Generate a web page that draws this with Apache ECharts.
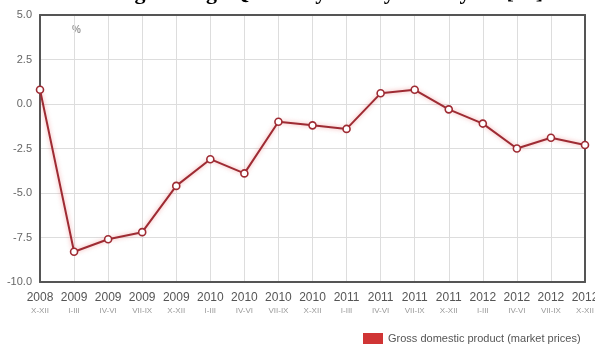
<!DOCTYPE html>
<html><head><meta charset="utf-8">
<script src="https://cdn.jsdelivr.net/npm/echarts@6/dist/echarts.min.js"></script>
<style>html,body{margin:0;padding:0;background:#fff}#c{width:595px;height:345px}</style>
</head><body><div id="c"></div>
<script>
const years = ['2008','2009','2009','2009','2009','2010','2010','2010','2010','2011','2011','2011','2011','2012','2012','2012','2012'];
const quarters = ['X-XII','I-III','IV-VI','VII-IX','X-XII','I-III','IV-VI','VII-IX','X-XII','I-III','IV-VI','VII-IX','X-XII','I-III','IV-VI','VII-IX','X-XII'];
const gdp = [0.8,-8.3,-7.6,-7.2,-4.6,-3.1,-3.9,-1.0,-1.2,-1.4,0.6,0.8,-0.3,-1.1,-2.5,-1.9,-2.3];
const yTicks = [-10,-7.5,-5,-2.5,0,2.5,5];
const seriesName = 'Gross domestic product (market prices)';
const titleText = 'Percentage change Quarterly GDP year on year [%]';

const cats = years.map((y,i)=>y+'\n'+quarters[i]);
const frameLine = {show:true,onZero:false,lineStyle:{color:'#555',width:2}};
const chart = echarts.init(document.getElementById('c'));
chart.setOption({
  backgroundColor:'#fff',
  animation:false,
  title:{text:titleText,left:'center',top:-23,textStyle:{fontFamily:'Liberation Serif',fontWeight:'bold',fontSize:22,color:'#000'}},
  graphic:[
    {type:'text',left:72,top:25,style:{text:'%',fill:'#999',font:'bold 10px Liberation Sans'}}
  ],
  legend:{bottom:-4,left:358,itemWidth:20,itemHeight:11,icon:'rect',
    textStyle:{fontFamily:'Liberation Sans',fontSize:11,color:'#555'},
    data:[{name:seriesName,itemStyle:{color:'#d03535',borderWidth:0}}]},
  grid:{left:40,right:10,top:15,bottom:63,outerBoundsMode:'none',containLabel:false},
  xAxis:[{type:'category',data:cats,boundaryGap:false,
    axisLine:frameLine,axisTick:{show:false},
    splitLine:{show:true,lineStyle:{color:'#ddd',width:1}},
    axisLabel:{interval:0,margin:8,hideOverlap:false,formatter:(v,i)=>'{y|'+years[i]+'}\n{q|'+quarters[i]+'}',
      rich:{y:{fontFamily:'Liberation Sans',fontSize:12,color:'#555',lineHeight:15},
            q:{fontFamily:'Liberation Sans',fontSize:8,color:'#999',lineHeight:12}}}},
    {type:'category',data:cats,boundaryGap:false,position:'top',axisLine:frameLine,axisTick:{show:false},axisLabel:{show:false},splitLine:{show:false}}],
  yAxis:[{type:'value',min:yTicks[0],max:yTicks[yTicks.length-1],interval:2.5,
    axisLine:frameLine,axisTick:{show:false},
    splitLine:{lineStyle:{color:'#ddd',width:1}},
    axisLabel:{margin:8,color:'#666',fontFamily:'Liberation Sans',fontSize:11,formatter:v=>v.toFixed(1)}},
    {type:'value',min:yTicks[0],max:yTicks[yTicks.length-1],interval:2.5,position:'right',axisLine:frameLine,axisTick:{show:false},axisLabel:{show:false},splitLine:{show:false}}],
  series:[{name:seriesName,type:'line',data:gdp,symbol:'circle',symbolSize:7,z:5,
    lineStyle:{color:'#9e2b33',width:2,shadowColor:'rgba(230,80,80,0.5)',shadowBlur:4},
    itemStyle:{color:'#fff',borderColor:'#9e2b33',borderWidth:1.6},
    color:'#d03535'}]
});
</script></body></html>
